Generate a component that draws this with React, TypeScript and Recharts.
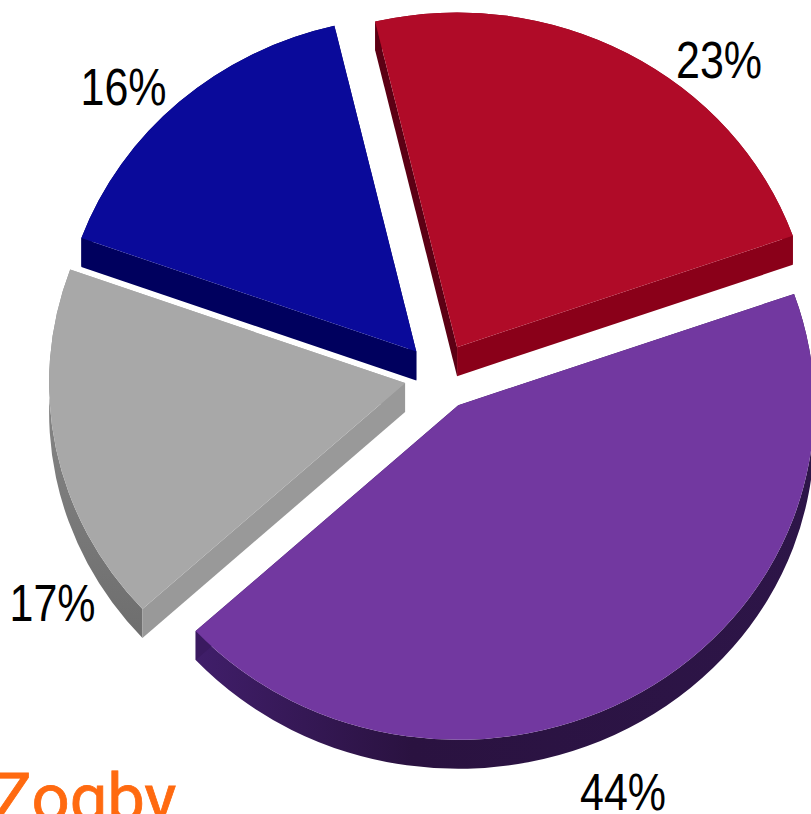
import { PieChart, Pie } from "recharts";

// Slice sizes, clockwise from the red slice
const names = ["Red", "Purple", "Gray", "Blue"];
const shares = [23.3, 43.6, 17.3, 15.8];
const labels = ["23%", "44%", "17%", "16%"];
const data = names.map((name, i) => ({ name, value: shares[i] }));

const topColors = ["#b00b28", "#7238a0", "#a8a8a8", "#0a0a9a"];
const startFace = ["#5c0014", "#3a1a60", "#999999", "#00005e"];
const endFace = ["#8a0019", "#3a1a60", "#a8a8a8", "#00005e"];
const arcFace = ["#8a0019", "url(#purpleSide)", "url(#graySide)", "#00005e"];

// The pie is tilted: vertical radius is squashed compared to the horizontal one
const TILT = 0.94;
const EXPLODE = 35.6;
const DEPTH = 29;
const RAD = Math.PI / 180;

// label anchors relative to the pie centre
const labelDx = [279, 183, -387.5, -316.5];
const labelDy = [-298.5, 433.5, 244.5, -271.5];

function Slice3D(props: any) {
  const { cx, cy, outerRadius: rx, startAngle, endAngle } = props;
  const name = props.name ?? props.payload?.name;
  const i = names.indexOf(name);
  const ry = rx * TILT;
  const mid = ((startAngle + endAngle) / 2) * RAD;
  const ax = cx + EXPLODE * Math.cos(mid);
  const ay = cy - EXPLODE * TILT * Math.sin(mid);
  const pt = (deg: number) => [
    ax + rx * Math.cos(deg * RAD),
    ay - ry * Math.sin(deg * RAD),
  ];
  const [sx, sy] = pt(startAngle);
  const [ex, ey] = pt(endAngle);
  const large = Math.abs(startAngle - endAngle) > 180 ? 1 : 0;
  const sweep = startAngle > endAngle ? 1 : 0;
  const back = sweep ? 0 : 1;
  const top = `M${ax},${ay}L${sx},${sy}A${rx},${ry} 0 ${large} ${sweep} ${ex},${ey}Z`;
  const arcSide = `M${sx},${sy}A${rx},${ry} 0 ${large} ${sweep} ${ex},${ey}L${ex},${ey + DEPTH}A${rx},${ry} 0 ${large} ${back} ${sx},${sy + DEPTH}Z`;
  const side = (x: number, y: number) =>
    `M${ax},${ay}L${x},${y}L${x},${y + DEPTH}L${ax},${ay + DEPTH}Z`;
  // end face first: on gray and blue it is the hidden one
  return (
    <g>
      <path d={arcSide} fill={arcFace[i]} />
      <path d={side(ex, ey)} fill={endFace[i]} />
      <path d={side(sx, sy)} fill={startFace[i]} />
      <path d={top} fill={topColors[i]} />
    </g>
  );
}

function renderLabel(props: any) {
  const { cx, cy, index } = props;
  return (
    <text
      x={cx + labelDx[index]}
      y={cy + labelDy[index]}
      textAnchor="middle"
      fontFamily="'Liberation Sans', sans-serif"
      fontSize={52}
      textLength={86}
      lengthAdjust="spacingAndGlyphs"
      fill="#000"
    >
      {labels[index]}
    </text>
  );
}

export default function App() {
  return (
    <div style={{ position: "absolute", left: 0, top: 0, width: 811, height: 814, overflow: "hidden" }}>
      <PieChart width={811} height={814} margin={{ top: 0, right: 0, bottom: 0, left: 0 }}>
        <defs>
          <linearGradient id="purpleSide" x1="0" y1="0" x2="1" y2="0">
            <stop offset="0%" stopColor="#401e6a" />
            <stop offset="35%" stopColor="#2a1240" />
            <stop offset="100%" stopColor="#2d1548" />
          </linearGradient>
          <linearGradient id="graySide" x1="0" y1="0" x2="0" y2="1">
            <stop offset="0%" stopColor="#909090" />
            <stop offset="100%" stopColor="#6e6e6e" />
          </linearGradient>
        </defs>
        <Pie
          data={data}
          dataKey="value"
          nameKey="name"
          cx={440}
          cy={376.5}
          innerRadius={0}
          outerRadius={356}
          startAngle={103.3}
          endAngle={-256.7}
          paddingAngle={0}
          stroke="none"
          shape={Slice3D}
          label={renderLabel}
          labelLine={false}
          isAnimationActive={false}
        />
        <text x={-8} y={821} fontFamily="Roboto, sans-serif" fontSize={67} fill="#ff6a10" stroke="#ff6a10" strokeWidth={0.8}>
          Zogby
        </text>
      </PieChart>
    </div>
  );
}
